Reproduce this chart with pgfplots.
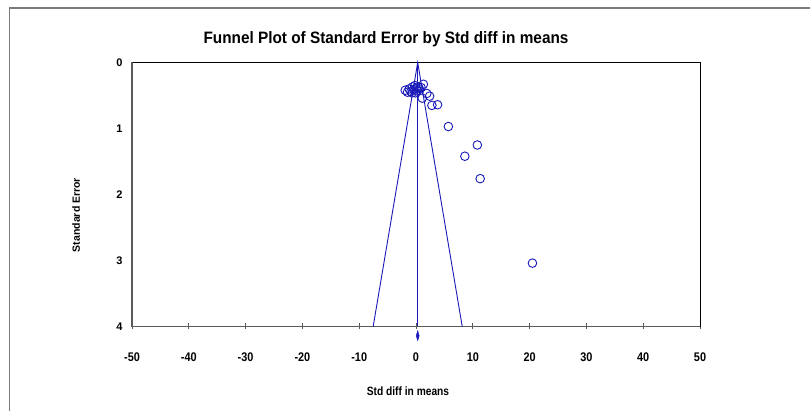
\documentclass[border=0pt]{standalone}
\usepackage{fontspec}
\setmainfont{Liberation Sans}
\usepackage{pgfplots}
\pgfplotsset{compat=1.18}
\definecolor{funnelblue}{RGB}{25,25,185}
\definecolor{axgray}{RGB}{90,90,90}
\begin{document}
\begin{tikzpicture}[x=1pt,y=1pt]
\useasboundingbox (0,0) rectangle (810,411);
\draw[axgray!80, line width=1.3pt] (9.5,0) -- (9.5,403) -- (810,403);
\node[font=\bfseries\fontsize{16.5}{19}\selectfont] at (386,372) {\scalebox{0.93}[1]{Funnel Plot of Standard Error by Std diff in means}};
\node[font=\bfseries\fontsize{12}{14}\selectfont] at (408,20) {\scalebox{0.85}[1]{Std diff in means}};
\node[font=\bfseries\fontsize{10.5}{12}\selectfont, rotate=90] at (76,196) {Standard Error};
\begin{axis}[
  at={(132pt,84.5pt)}, anchor=south west,
  scale only axis, width=568pt, height=264pt,
  xmin=-50, xmax=50, ymin=0, ymax=4, y dir=reverse,
  axis line style={black, line width=0.9pt},
  xtick={-50,-40,...,50}, ytick={0,1,2,3,4},
  xtick pos=bottom, ytick pos=left,
  tick align=center, major tick length=6pt,
  xtick style={axgray, line width=0.9pt},
  ytick style={draw=none},
  /pgf/number format/assume math mode=true,
  xticklabel style={font=\bfseries\fontsize{12.5}{14}\selectfont, yshift=-20pt, xscale=0.87},
  yticklabel style={font=\bfseries\fontsize{11}{12}\selectfont, xshift=-3pt},
  clip=false,
]
\draw[axgray, line width=1.1pt] (axis cs:-50,0) -- (axis cs:-50,4) -- (axis cs:50,4);
\addplot[funnelblue, line width=0.9pt, mark=none] coordinates {(-7.54,4) (0.3,0) (8.14,4)};
\addplot[funnelblue, line width=0.9pt, mark=none] coordinates {(0.3,0) (0.3,4)};
\addplot[funnelblue, only marks, mark=diamond*, mark size=5pt, mark options={xscale=0.4}] coordinates {(0.3,4.14)};
\addplot[funnelblue, only marks, mark=o, mark size=4.3pt, mark options={line width=0.9pt}] coordinates {
(-1.9,0.42) (-1.5,0.45) (-1.2,0.40) (-0.9,0.44) (-0.6,0.37) (-0.4,0.41)
(-0.2,0.35) (0.0,0.39) (0.2,0.43) (0.4,0.37) (0.6,0.40) (0.9,0.38)
(-0.7,0.46) (-0.1,0.46) (1.3,0.33) (1.1,0.54) (1.9,0.47) (2.4,0.51)
(2.8,0.65) (3.8,0.64) (5.7,0.97) (10.8,1.25) (8.6,1.42) (11.3,1.76) (20.5,3.04)
};
\end{axis}
\end{tikzpicture}
\end{document}
